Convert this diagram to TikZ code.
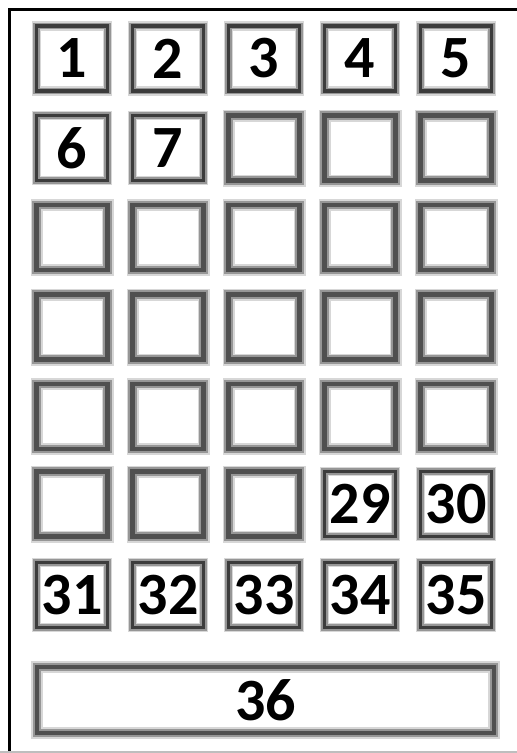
\documentclass[tikz,border=0pt]{standalone}
\usepackage{fontspec}
\setmainfont{Carlito}
\usepackage{xcolor}
\usepackage{tikz}
\definecolor{cellgray}{RGB}{60,60,60}
\definecolor{halogray}{RGB}{150,150,150}
\definecolor{haloedge}{RGB}{215,215,215}
\definecolor{rulegray}{RGB}{190,190,190}
\newcommand{\cellfont}{\bfseries\fontsize{60}{60}\selectfont}

\begin{document}
\begin{tikzpicture}[x=1pt,y=-1pt,every node/.style={font=\cellfont},
numcell/.style={draw=cellgray,line width=3.2pt,inner sep=0pt,minimum width=71pt,minimum height=65pt,
  preaction={draw=haloedge,line width=9.5pt},preaction={draw=halogray,line width=6.5pt}},
blankcell/.style={draw=cellgray!90,line width=4.5pt,inner sep=0pt,minimum width=71pt,minimum height=65pt,
  preaction={draw=haloedge,line width=12pt},preaction={draw=halogray,line width=8.5pt}},
bar/.style={blankcell,minimum width=457pt,minimum height=66pt}]
\useasboundingbox (0,0) rectangle (517,753);
% frame
\draw[line width=3pt] (9.5,753) -- (9.5,9.5) -- (517,9.5);
\draw[rulegray,line width=1.2pt] (0,752) -- (517,752);
% row 1
\node[numcell] (c1) at (72,58.5) {1};
\node[numcell] (c2) at (168,58.5) {2};
\node[numcell] (c3) at (264,58.5) {3};
\node[numcell] (c4) at (360,58.5) {4};
\node[numcell] (c5) at (456,58.5) {5};
% row 2
\node[numcell] (c6) at (72,148) {6};
\node[numcell] (c7) at (168,148) {7};
\node[blankcell] (c8) at (264,148) {};
\node[blankcell] (c9) at (360,148) {};
\node[blankcell] (c10) at (456,148) {};
% row 3
\node[blankcell] (c11) at (72,237.5) {};
\node[blankcell] (c12) at (168,237.5) {};
\node[blankcell] (c13) at (264,237.5) {};
\node[blankcell] (c14) at (360,237.5) {};
\node[blankcell] (c15) at (456,237.5) {};
% row 4
\node[blankcell] (c16) at (72,327) {};
\node[blankcell] (c17) at (168,327) {};
\node[blankcell] (c18) at (264,327) {};
\node[blankcell] (c19) at (360,327) {};
\node[blankcell] (c20) at (456,327) {};
% row 5
\node[blankcell] (c21) at (72,416.5) {};
\node[blankcell] (c22) at (168,416.5) {};
\node[blankcell] (c23) at (264,416.5) {};
\node[blankcell] (c24) at (360,416.5) {};
\node[blankcell] (c25) at (456,416.5) {};
% row 6
\node[blankcell] (c26) at (72,504) {};
\node[blankcell] (c27) at (168,504) {};
\node[blankcell] (c28) at (264,504) {};
\node[numcell] (c29) at (360,504) {29};
\node[numcell] (c30) at (456,504) {30};
% row 7
\node[numcell] (c31) at (72,595) {31};
\node[numcell] (c32) at (168,595) {32};
\node[numcell] (c33) at (264,595) {33};
\node[numcell] (c34) at (360,595) {34};
\node[numcell] (c35) at (456,595) {35};
% last row
\node[bar] (c36) at (265.5,700) {36};
\end{tikzpicture}
\end{document}
